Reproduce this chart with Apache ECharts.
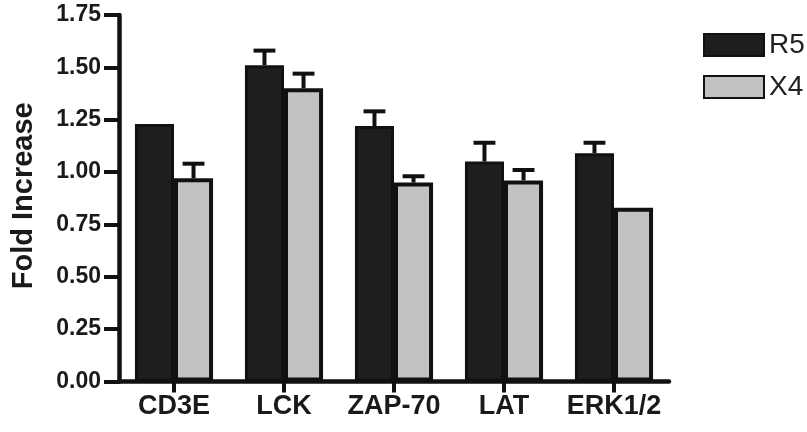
<!DOCTYPE html>
<html>
<head>
<meta charset="utf-8">
<script src="https://cdn.jsdelivr.net/npm/echarts@6/dist/echarts.min.js"></script>
<style>
  html, body { margin: 0; padding: 0; background: #fff; }
  #chart { width: 807px; height: 432px; }
</style>
</head>
<body>
<div id="chart"></div>
<script>
// Protein expression, fold increase per target
const categories = ['CD3E', 'LCK', 'ZAP-70', 'LAT', 'ERK1/2'];
const r5Values = [1.23, 1.51, 1.22, 1.05, 1.09];
const r5Errors = [0, 0.07, 0.07, 0.09, 0.05];
const x4Values = [0.97, 1.40, 0.95, 0.96, 0.83];
const x4Errors = [0.07, 0.07, 0.03, 0.05, 0];
const yMin = 0, yMax = 1.75, yStep = 0.25;

const FONT = '"Liberation Sans", Arial, Helvetica, sans-serif';
const Y_TICK_LEN = 15;
const CAT_GAP = 0.29;

const chart = echarts.init(document.getElementById('chart'), null, { renderer: 'canvas' });

// Upper half of an SEM bar (stem + cap) centred over one bar of the pair
function errorBarSeries(name, values, errors, side) {
  return {
    name: name + ' SEM',
    type: 'custom',
    z: 5,
    silent: true,
    legendHoverLink: false,
    encode: { x: 0, y: 1 },
    data: values.map((v, i) => [i, v, errors[i]]),
    renderItem(params, api) {
      const idx = api.value(0), val = api.value(1), err = api.value(2);
      if (!err) return null;
      const band = api.size([1, 0])[0];
      const barW = band * (1 - CAT_GAP) / 2;
      const cx = api.coord([idx, 0])[0] + side * barW / 2;
      const yTop = api.coord([idx, val])[1];
      const yCap = api.coord([idx, val + err])[1];
      const capHalf = barW * 0.28;
      const style = { stroke: '#111', lineWidth: 4 };
      return {
        type: 'group',
        children: [
          { type: 'line', shape: { x1: cx, y1: yTop, x2: cx, y2: yCap }, style },
          { type: 'line', shape: { x1: cx - capHalf, y1: yCap, x2: cx + capHalf, y2: yCap }, style }
        ]
      };
    }
  };
}

chart.setOption({
  animation: false,
  backgroundColor: '#fff',
  grid: { left: 119, right: 138, top: 15, bottom: 50.5, containLabel: false },
  legend: {
    orient: 'vertical',
    left: 703,
    top: 31,
    padding: 0,
    icon: 'rect',
    itemWidth: 60,
    itemHeight: 22,
    itemGap: 14,
    data: ['R5', 'X4'],
    textStyle: { fontFamily: FONT, fontSize: 28, lineHeight: 22, color: '#222' }
  },
  xAxis: {
    type: 'category',
    data: categories,
    axisLine: { lineStyle: { color: '#111', width: 4.5 } },
    axisTick: { show: true, alignWithLabel: true, length: 11, lineStyle: { color: '#111', width: 4 } },
    axisLabel: { interval: 0, fontFamily: FONT, fontSize: 27, fontWeight: 'bold', color: '#1a1a1a', margin: 12 },
    splitLine: { show: false }
  },
  yAxis: {
    type: 'value',
    min: yMin,
    max: yMax,
    interval: yStep,
    name: 'Fold Increase',
    nameLocation: 'middle',
    nameGap: 81,
    nameTextStyle: {
      fontFamily: FONT, fontSize: 29, fontWeight: 'bold', color: '#1a1a1a',
      padding: [0, 0, 0, 5]
    },
    axisLine: { show: true, lineStyle: { color: '#111', width: 4.5 } },
    axisTick: { show: true, length: Y_TICK_LEN, lineStyle: { color: '#111', width: 4 } },
    axisLabel: {
      fontFamily: FONT, fontSize: 23, fontWeight: 'bold', color: '#1a1a1a', margin: Y_TICK_LEN + 3,
      formatter: v => v.toFixed(2)
    },
    splitLine: { show: false }
  },
  series: [
    {
      name: 'R5',
      type: 'bar',
      data: r5Values,
      barGap: '0%',
      barCategoryGap: (CAT_GAP * 100) + '%',
      itemStyle: { color: '#1e1e1e', borderColor: '#111', borderWidth: 3 }
    },
    {
      name: 'X4',
      type: 'bar',
      data: x4Values,
      itemStyle: { color: '#c2c2c5', borderColor: '#111', borderWidth: 4 }
    },
    errorBarSeries('R5', r5Values, r5Errors, -1),
    errorBarSeries('X4', x4Values, x4Errors, 1)
  ]
});
</script>
</body>
</html>
